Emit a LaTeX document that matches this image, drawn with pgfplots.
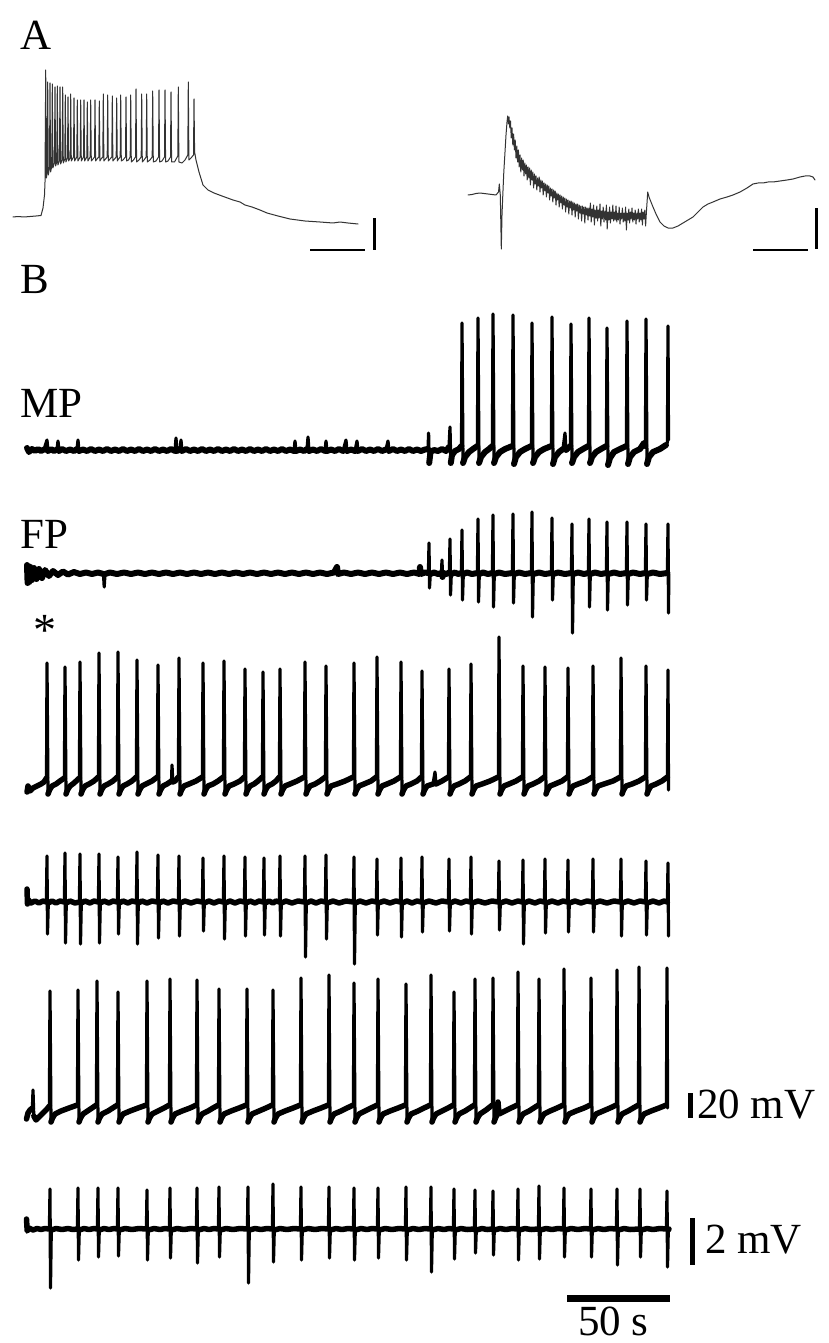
\documentclass[border=0pt]{standalone}
\usepackage{fontspec}
\setmainfont{Liberation Serif}
\usepackage{pgfplots}
\usepackage{pgfplotstable}
\pgfplotsset{compat=1.18}
% Panel B traces, pixel coordinates (x right, y down)
\pgfplotstableread[row sep=\\]{x y\\
27 448\\29 452\\32 449\\35 451\\38 449\\41 451\\44 449.5\\47 440\\48 451\\51 449\\54 451\\57 449.5\\58 441\\59 451\\
62 449\\66 451\\70 449.5\\74 451\\77 449\\78 440\\79 451\\83 449.5\\87 451\\91 449\\95 451\\99 449.5\\103 451\\107 449\\
111 451\\115 449.5\\119 451\\123 449\\127 451\\131 449.5\\135 451\\139 449\\143 451\\147 449.5\\151 451\\155 449\\159 451\\
163 449.5\\167 451\\171 449\\175 451\\176 438\\177 451\\180 449.5\\181 440\\182 451\\186 449\\190 451\\194 449.5\\198 451\\
202 449\\206 451\\210 449.5\\214 451\\218 449\\222 451\\226 449.5\\230 451\\234 449\\238 451\\242 449.5\\246 451\\250 449\\
254 451\\258 449.5\\262 451\\266 449\\270 451\\274 449.5\\278 451\\282 449\\286 451\\290 449.5\\294 451\\295 441\\296 451\\
300 449.5\\304 451\\307 449\\308 437\\309 451\\313 449.5\\317 451\\321 449\\325 451\\326 441\\327 451\\331 449.5\\335 451\\
339 449\\343 451\\346 440\\347 451\\351 449.5\\355 451\\357 441\\358 451\\362 449\\366 451\\370 449.5\\374 451\\378 449\\
382 451\\386 449.5\\388 441\\389 451\\393 449\\397 451\\401 449.5\\405 451\\409 449\\413 451\\417 449.5\\421 451\\425 449.5\\
428 449\\428.6 433\\429.2 463\\430.5 452\\434 450\\438 451\\442 449\\446 451\\449 447\\450 427\\450.8 463\\452 455\\
455 451\\459 449\\461.5 446\\
462 323\\463 463\\465 457\\469 452\\473 449\\477.4 446\\
478 318\\479 463\\481 457\\485 452\\489 449\\492.4 446\\
493 314\\494 463\\496 457\\500 452\\505 449\\512.4 446\\
513 315\\514 464\\516 457\\520 452\\525 449\\531.4 446\\
532 323\\533 463\\535 457\\539 452\\544 449\\551.4 446\\
552 317\\553 464\\555 457\\559 452\\563 449\\565 433\\566 450\\570.4 446\\
571 324\\572 463\\574 457\\578 452\\583 449\\588.4 446\\
589 318\\590 463\\592 457\\596 452\\601 449\\606.4 446\\
607 328\\608 465\\610 458\\614 452\\620 449\\626.4 446\\
627 321\\628 464\\630 457\\634 452\\640 449\\644 443\\645.4 446\\
646 319\\647 464\\649 457\\653 452\\660 449\\666 445\\667.4 442\\
668 326\\668.5 440\\}\mpone
\pgfplotstableread[row sep=\\]{x y\\
27 565\\27.6 583\\28.4 566\\29.3 582\\30.5 567\\32 580\\34 568\\36.5 579\\39 569\\42 578\\45 570\\49 576\\53 571\\
58 575\\63 571.5\\68 574.5\\74 572\\80 574\\86 572.5\\92 574\\98 572.5\\103.5 574\\104.2 587\\105 574\\110 572.5\\
117 574\\124 572.5\\131 574\\138 572.5\\145 574\\152 572.5\\159 574\\166 572.5\\173 574\\180 572.5\\187 574\\194 572.5\\
201 574\\208 572.5\\215 574\\222 572.5\\229 574\\236 572.5\\243 574\\250 572.5\\257 574\\264 572.5\\271 574\\278 572.5\\
285 574\\292 572.5\\299 574\\306 572.5\\313 574\\320 572.5\\327 574\\334 572.5\\337 567\\338 574\\344 572.5\\351 574\\
358 572.5\\365 574\\372 572.5\\379 574\\386 572.5\\393 574\\400 572.5\\407 574\\414 572.5\\419.5 574\\420 567\\
420.8 574\\425 572.5\\428.4 573\\
429 543\\429.5 588\\430.3 574\\434 572.5\\438 574\\441.4 573\\
442 560\\442.5 577\\443.3 573\\446 574\\449.4 572.5\\
450 539\\450.5 595\\451.3 574\\455 572.5\\458 574\\461.4 573\\
462 530\\462.5 600\\463.3 574\\467 572.5\\472 574\\477.4 573\\
478 519\\478.5 602\\479.3 574\\483 572.5\\488 574\\492.4 573\\
493 515\\493.5 607\\494.3 574\\499 572.5\\505 574\\512.4 573\\
513 514\\513.5 603\\514.3 574\\519 572.5\\525 574\\531.4 573\\
532 512\\532.5 617\\533.3 574\\539 572.5\\545 574\\551.4 573\\
552 518\\552.5 600\\553.3 574\\558 572.5\\565 574\\571.4 573\\
572 524\\572.5 633\\573.3 574\\578 572.5\\584 574\\588.4 573\\
589 519\\589.5 607\\590.3 574\\595 572.5\\601 574\\606.4 573\\
607 522\\607.5 610\\608.3 574\\614 572.5\\620 574\\626.4 573\\
627 522\\627.5 605\\628.3 574\\633 572.5\\640 574\\645.4 573\\
646 524\\646.5 600\\647.3 574\\653 572.5\\660 574\\667.4 573\\
668 524\\668.5 613\\668.8 574\\}\fptwo
\pgfplotstableread[row sep=\\]{x y\\
27 792\\28 786\\30 791\\33 788\\37 786\\41 784\\44 782\\46.5 778\\
47 663\\48 794\\49.5 790\\52 786\\56 784\\60 781\\64.4 778\\
65 667\\66 794\\67.5 790\\70 786\\74 783\\79.4 778\\
80 662\\81 794\\82.5 790\\85 786\\89 784\\94 781\\98.4 777\\
99 653\\100 794\\101.5 790\\104 786\\108 784\\113 781\\117.4 777\\
118 652\\119 794\\120.5 790\\123 786\\127 784\\132 781\\136.4 777\\
137 660\\138 794\\139.5 790\\142 786\\146 784\\152 781\\157.4 777\\
158 665\\159 794\\160.5 790\\163 786\\167 784\\171.5 781\\172 765\\172.8 782\\175 781\\178.4 777\\
179 658\\180 794\\181.5 790\\184 786\\189 784\\196 781\\202.4 777\\
203 663\\204 794\\205.5 790\\208 786\\213 784\\218 781\\223.4 777\\
224 661\\225 794\\226.5 790\\229 786\\234 784\\240 781\\244.4 777\\
245 669\\246 794\\247.5 790\\250 786\\254 784\\258 781\\262.4 777\\
263 672\\264 794\\265.5 790\\268 786\\272 784\\276 781\\279.4 777\\
280 669\\281 794\\282.5 790\\285 786\\290 784\\297 781\\304.4 777\\
305 662\\306 794\\307.5 790\\310 786\\315 784\\320 781\\325.4 777\\
326 666\\327 794\\328.5 790\\331 786\\337 784\\345 781\\353.4 777\\
354 663\\355 794\\356.5 790\\359 786\\364 784\\371 781\\376.4 777\\
377 657\\378 794\\379.5 790\\382 786\\387 784\\394 781\\400.4 777\\
401 662\\402 794\\403.5 790\\406 786\\411 784\\417 781\\421.4 777\\
422 671\\423 794\\424.5 790\\427 786\\433 784\\435 772\\436 784\\442 781\\448.4 777\\
449 669\\450 794\\451.5 790\\454 786\\459 784\\465 781\\470.4 777\\
471 664\\472 794\\473.5 790\\476 786\\482 784\\490 781\\498.4 777\\
499 637\\500 794\\501.5 790\\504 786\\509 784\\516 781\\522.4 777\\
523 666\\524 794\\525.5 790\\528 786\\533 784\\539 781\\544.4 777\\
545 667\\546 794\\547.5 790\\550 786\\555 784\\562 781\\567.4 777\\
568 668\\569 794\\570.5 790\\573 786\\578 784\\586 781\\592.4 777\\
593 666\\594 794\\595.5 790\\598 786\\604 784\\613 781\\620.4 777\\
621 658\\622 794\\623.5 790\\626 786\\632 784\\639 781\\645.4 777\\
646 666\\647 794\\648.5 790\\651 786\\656 784\\662 781\\667.4 777\\
668 670\\668.5 790\\}\mpthree
\pgfplotstableread[row sep=\\]{x y\\
27 889\\27.5 904\\28.5 900\\31 903\\35 901\\39 903\\43 901\\46.4 902\\
47 856\\47.5 934\\48.3 903\\52 901\\56 903\\60 901\\64.4 902\\
65 853\\65.5 943\\66.3 903\\70 901\\75 903\\79.4 902\\
80 854\\80.5 944\\81.3 903\\85 901\\90 903\\94 901\\98.4 902\\
99 854\\99.5 943\\100.3 903\\104 901\\109 903\\113 901\\117.4 902\\
118 857\\118.5 934\\119.3 903\\123 901\\128 903\\132 901\\136.4 902\\
137 852\\137.5 944\\138.3 903\\142 901\\147 903\\152 901\\157.4 902\\
158 855\\158.5 938\\159.3 903\\163 901\\168 903\\173 901\\178.4 902\\
179 856\\179.5 936\\180.3 903\\185 901\\191 903\\197 901\\202.4 902\\
203 858\\203.5 931\\204.3 903\\209 901\\214 903\\219 901\\223.4 902\\
224 856\\224.5 939\\225.3 903\\230 901\\235 903\\240 901\\244.4 902\\
245 857\\245.5 936\\246.3 903\\250 901\\255 903\\259 901\\263.4 902\\
264 858\\264.5 935\\265.3 903\\269 901\\273 903\\276 901\\279.4 902\\
280 856\\280.5 936\\281.3 903\\286 901\\292 903\\298 901\\304.4 902\\
305 856\\305.5 957\\306.3 903\\311 901\\316 903\\321 901\\325.4 902\\
326 855\\326.5 939\\327.3 903\\333 901\\339 903\\346 901\\353.4 902\\
354 857\\354.5 964\\355.3 903\\360 901\\366 903\\372 901\\376.4 902\\
377 859\\377.5 935\\378.3 903\\384 901\\390 903\\396 901\\400.4 902\\
401 858\\401.5 937\\402.3 903\\407 901\\412 903\\417 901\\421.4 902\\
422 857\\422.5 932\\423.3 903\\429 901\\436 903\\442 901\\448.4 902\\
449 859\\449.5 931\\450.3 903\\455 901\\461 903\\466 901\\470.4 902\\
471 857\\471.5 934\\472.3 903\\478 901\\485 903\\492 901\\498.4 902\\
499 861\\499.5 930\\500.3 903\\506 901\\512 903\\518 901\\522.4 902\\
523 860\\523.5 944\\524.3 903\\529 901\\535 903\\540 901\\544.4 902\\
545 859\\545.5 933\\546.3 903\\552 901\\558 903\\563 901\\567.4 902\\
568 860\\568.5 932\\569.3 903\\575 901\\581 903\\587 901\\592.4 902\\
593 859\\593.5 932\\594.3 903\\600 901\\607 903\\614 901\\620.4 902\\
621 859\\621.5 936\\622.3 903\\628 901\\634 903\\640 901\\645.4 902\\
646 861\\646.5 935\\647.3 903\\653 901\\659 903\\664 901\\667.4 902\\
668 863\\668.5 936\\}\fpfour
\pgfplotstableread[row sep=\\]{x y\\
26.5 1119\\28 1113\\30 1110\\32.4 1108\\33 1090\\33.8 1116\\36 1120\\39 1117\\43 1113\\47 1109\\49.4 1106\\
50 991\\51 1122\\52.5 1118\\55 1114\\61 1111\\69 1108\\77.4 1105\\
78 990\\79 1122\\80.5 1118\\83 1114\\89 1110\\96.4 1105\\
97 981\\98 1122\\99.5 1118\\102 1114\\108 1111\\117.4 1105\\
118 992\\119 1122\\120.5 1118\\123 1114\\130 1111\\138 1108\\146.4 1105\\
147 981\\148 1122\\149.5 1118\\152 1114\\158 1111\\164 1108\\169.4 1105\\
170 979\\171 1122\\172.5 1118\\175 1114\\182 1111\\190 1108\\196.4 1105\\
197 980\\198 1122\\199.5 1118\\202 1114\\208 1111\\213 1108\\218.4 1105\\
219 989\\220 1122\\221.5 1118\\224 1114\\231 1111\\239 1108\\246.4 1105\\
247 989\\248 1122\\249.5 1118\\252 1114\\259 1111\\266 1108\\272.4 1105\\
273 990\\274 1122\\275.5 1118\\278 1114\\285 1111\\293 1108\\300.4 1105\\
301 978\\302 1122\\303.5 1118\\306 1114\\313 1111\\321 1108\\328.4 1105\\
329 975\\330 1122\\331.5 1118\\334 1114\\341 1111\\347 1108\\353.4 1105\\
354 983\\355 1122\\356.5 1118\\359 1114\\365 1111\\371 1108\\377.4 1105\\
378 979\\379 1122\\380.5 1118\\383 1114\\390 1111\\398 1108\\405.4 1105\\
406 984\\407 1122\\408.5 1118\\411 1114\\418 1111\\424 1108\\430.4 1105\\
431 975\\432 1122\\433.5 1118\\436 1114\\442 1111\\448 1108\\453.4 1105\\
454 992\\455 1122\\456.5 1118\\459 1114\\465 1111\\474.4 1105\\
475 979\\476 1122\\477.5 1118\\480 1114\\486 1110\\492.4 1105\\
493 978\\494 1122\\495.5 1118\\497.5 1114\\498 1102\\499 1114\\505 1111\\511 1108\\517.4 1105\\
518 972\\519 1122\\520.5 1118\\523 1114\\529 1111\\538.4 1105\\
539 979\\540 1122\\541.5 1118\\544 1114\\550 1111\\557 1108\\563.4 1105\\
564 969\\565 1122\\566.5 1118\\569 1114\\576 1111\\584 1108\\590.4 1105\\
591 978\\592 1122\\593.5 1118\\596 1114\\603 1111\\610 1108\\616.4 1105\\
617 970\\618 1122\\619.5 1118\\622 1114\\628 1111\\638.4 1105\\
639 967\\640 1122\\641.5 1118\\644 1114\\651 1111\\659 1108\\666.4 1105\\
667 968\\667.6 1108\\}\mpfive
\pgfplotstableread[row sep=\\]{x y\\
26.5 1219\\27.2 1231\\29 1228\\33 1230\\37 1228.5\\41 1229.5\\45 1228.5\\49.4 1229\\
50 1189\\50.5 1288\\51.3 1230\\56 1228.5\\62 1229.5\\68 1228.5\\73 1229.5\\77.4 1229\\
78 1188\\78.5 1260\\79.3 1230\\84 1228.5\\89 1229.5\\94 1228.5\\97.4 1229\\
98 1188\\98.5 1257\\99.3 1230\\104 1228.5\\109 1229.5\\114 1228.5\\117.4 1229\\
118 1188\\118.5 1256\\119.3 1230\\125 1228.5\\132 1229.5\\139 1228.5\\146.4 1229\\
147 1190\\147.5 1260\\148.3 1230\\154 1228.5\\160 1229.5\\165 1228.5\\169.4 1229\\
170 1188\\170.5 1258\\171.3 1230\\177 1228.5\\184 1229.5\\191 1228.5\\196.4 1229\\
197 1188\\197.5 1263\\198.3 1230\\204 1228.5\\209 1229.5\\214 1228.5\\218.4 1229\\
219 1187\\219.5 1257\\220.3 1230\\226 1228.5\\233 1229.5\\240 1228.5\\247.4 1229\\
248 1187\\248.5 1283\\249.3 1230\\255 1228.5\\261 1229.5\\267 1228.5\\272.4 1229\\
273 1184\\273.5 1262\\274.3 1230\\280 1228.5\\287 1229.5\\294 1228.5\\300.4 1229\\
301 1187\\301.5 1260\\302.3 1230\\308 1228.5\\315 1229.5\\322 1228.5\\328.4 1229\\
329 1187\\329.5 1258\\330.3 1230\\336 1228.5\\342 1229.5\\348 1228.5\\353.4 1229\\
354 1188\\354.5 1260\\355.3 1230\\361 1228.5\\367 1229.5\\372 1228.5\\377.4 1229\\
378 1188\\378.5 1258\\379.3 1230\\385 1228.5\\392 1229.5\\399 1228.5\\405.4 1229\\
406 1187\\406.5 1260\\407.3 1230\\413 1228.5\\419 1229.5\\425 1228.5\\430.4 1229\\
431 1187\\431.5 1272\\432.3 1230\\438 1228.5\\444 1229.5\\449 1228.5\\453.4 1229\\
454 1189\\454.5 1259\\455.3 1230\\461 1228.5\\467 1229.5\\474.4 1229\\
475 1190\\475.5 1253\\476.3 1230\\482 1228.5\\487 1229.5\\492.4 1229\\
493 1191\\493.5 1255\\494.3 1230\\500 1228.5\\506 1229.5\\512 1228.5\\517.4 1229\\
518 1189\\518.5 1260\\519.3 1230\\525 1228.5\\531 1229.5\\538.4 1229\\
539 1186\\539.5 1259\\540.3 1230\\546 1228.5\\552 1229.5\\558 1228.5\\563.4 1229\\
564 1188\\564.5 1257\\565.3 1230\\571 1228.5\\578 1229.5\\585 1228.5\\590.4 1229\\
591 1189\\591.5 1257\\592.3 1230\\598 1228.5\\604 1229.5\\610 1228.5\\616.4 1229\\
617 1189\\617.5 1265\\618.3 1230\\624 1228.5\\630 1229.5\\639.4 1229\\
640 1189\\640.5 1257\\641.3 1230\\647 1228.5\\653 1229.5\\660 1228.5\\666.4 1229\\
667 1191\\667.5 1267\\668.3 1230\\669 1229\\}\fpsix
\pgfplotstableread[row sep=\\]{x y\\
27 901\\27.5 904\\28.5 900\\31 903\\35 901.5\\39 902.5\\43 901.5\\46.4 902\\
48.3 902.5\\52 901.5\\56 902.5\\60 901.5\\64.4 902\\}\dummy
\begin{document}
\begin{tikzpicture}[x=1pt,y=1pt]
\fill[white] (0,0) rectangle (829,1343);
\begin{axis}[at={(0,0)},anchor=south west,scale only axis,width=829pt,height=1343pt,
  xmin=0,xmax=829,ymin=0,ymax=1343,y dir=reverse,hide axis,clip=false,
  every axis plot/.append style={mark=none,line join=round,line cap=round}]
% ---------------- Panel A left
\addplot[black!80,line width=1pt] coordinates {
(13,217)(18,216.5)(24,217)(30,216.5)(36,216)(41,215.5)(43,208)(44.5,195)(45,182)
(45.7,70)(46.4,178)(47.2,172)(47.7,82)(48.3,175)(49.5,168)(50,83)(50.6,172)(51.8,166)(52.3,84)(52.9,168)
(54.4,163)(55,87)(55.6,166)(56.8,162)(57.3,86)(57.9,165)(59.4,161)(60,87)(60.6,164)(62.1,160)(62.7,87)(63.3,163)
(64.8,159)(65.3,95)(65.9,162)(67.5,158)(68,97)(68.6,161)(70.2,158)(70.7,94)(71.3,161)(73.5,157)(74,98)(74.6,161)
(76.8,157)(77.3,100)(77.9,161)(80.2,157)(80.7,100)(81.3,161)(83.5,157)(84,100)(84.6,161)(86.8,157)(87.3,102)(87.9,161)
(90.2,157)(90.7,100)(91.3,161)(93,159)(94.5,157)(95,100)(95.6,161)(97,159)(98.8,157)(99.3,101)(99.9,161)(101,159)
(102.8,157)(103.3,94)(103.9,161)(105.5,159)(107.2,157)(107.7,95)(108.3,161)(110,159)(111.8,157)(112.3,96)(112.9,161)(114.5,159)
(116.2,157)(116.7,98)(117.3,161)(118.5,159)(120.2,157)(120.7,95)(121.3,161)(123,160)(125.5,157)(126,97)(126.6,161)(128.5,160)
(130.2,157)(130.7,95)(131.3,162)(133.5,160)(135.5,157)(136,89)(136.6,162)(139,160)(141.2,157)(141.7,94)(142.3,162)(144,160)
(146.2,157)(146.7,94)(147.3,162)(150,160)(152.2,157)(152.7,91)(153.3,162)(156,161)(158.5,157)(159,90)(159.6,162)(162,161)
(164.5,157)(165,90)(165.6,162)(168,161)(170.5,157)(171,92)(171.6,162)(174.5,162)(177.8,156)(178.3,87)(178.9,162)(182,163)(185,160)
(187.8,155)(188.3,82)(188.9,160)(191,158)(193.5,155)(194,99)(194.6,152)
(196,160)(199,172)(203,185)(208,190)(214,193)(222,196)(233,200)(240,202)(245,205)(252,207)(260,210)(267,213)
(278,216)(290,219)(305,221)(320,222)(333,223)(340,222)(348,223)(358,224)};
\addplot[black,line width=2.5pt,line cap=butt] coordinates {(310,250)(365,250)};
\addplot[black,line width=3pt,line cap=butt] coordinates {(374,218)(374,250)};
% ---------------- Panel A right
\addplot[black!80,line width=1pt] coordinates {
(468,195)(472,194.5)(476,193.5)(480,193)(484,193.5)(488,194)(492,194.5)(496,195)(498.5,192)(499.3,184)(500.3,195)
(501.3,249)(502,215)(502.8,195)(503.8,172)(505,152)(506,135)(507,122)(507.7,116)(508.4,124)(509,117)(509.8,128)
(510.5,121)(511.2,138)(512,128)(512.8,145)(513.6,134)(514.4,150)(515.2,140)(516,158)(516.8,146)(517.6,162)(518.4,150)
(519.2,167)(520,155)(520.8,172)(521.6,158)(522.4,170)(523.2,160)(524,176)(524.8,163)(525.6,174)(526.4,165)(527.2,180)
(528,167)(528.8,178)(529.6,168)(530.4,185)(531.2,170)(532,180)(532.8,172)(533.6,188)(534.4,174)(535.2,184)(536,176)
(536.8,190)(537.6,178)(538.4,186)(539.2,177)(540,192)(540.8,180)(541.6,188)(542.4,181)(543.2,195)(544,183)(544.8,191)
(545.6,184)(546.4,197)(547.2,185)(548,193)(548.8,186)(549.6,200)(550.4,188)(551.2,196)(552,189)(552.8,202)(553.6,190)
(554.4,198)(555.2,191)(556,205)(556.8,193)(557.6,200)(558.4,194)(559.2,207)(560,195)(560.8,203)(561.6,196)(562.4,209)
(563.2,197)(564,205)(564.8,198)(565.6,212)(566.4,199)(567.2,207)(568,200)(568.8,214)(569.6,201)(570.4,208)(571.2,201)
(572,215)(572.8,202)(573.6,210)(574.4,203)(575.2,217)(576,204)(576.8,211)(577.6,204)(578.4,219)(579.2,205)(580,213)
(580.8,206)(581.6,221)(582.4,206)(583.2,214)(584,207)(584.8,223)(585.6,207)(586.4,215)(587.2,208)(588,220)(588.8,208)
(589.6,216)(590.4,203)(591.2,222)(592,209)(592.8,217)(593.6,205)(594.4,225)(595.2,210)(596,218)(596.8,206)(597.6,221)
(598.4,210)(599.2,218)(600,204)(600.8,226)(601.6,211)(602.4,219)(603.2,207)(604,222)(604.8,211)(605.6,220)(606.4,205)
(607.2,229)(608,212)(608.8,220)(609.6,207)(610.4,223)(611.2,212)(612,219)(612.8,205)(613.6,221)(614.4,212)(615.2,220)
(616,206)(616.8,222)(617.6,213)(618.4,220)(619.2,207)(620,224)(620.8,213)(621.6,219)(622.4,208)(623.2,222)(624,213)
(624.8,221)(625.6,207)(626.4,230)(627.2,213)(628,220)(628.8,209)(629.6,223)(630.4,212)(631.2,219)(632,208)(632.8,222)
(633.6,213)(634.4,220)(635.2,210)(636,224)(636.8,213)(637.6,219)(638.4,209)(639.2,222)(640,213)(640.8,220)(641.6,209)
(642.4,225)(643.2,212)(644,219)(644.8,210)(645.6,226)(646.4,212)(647.2,200)(647.7,192)(649,197)(651,202)(653,207)
(656,214)(660,222)(664,226)(668,228)(673,228)(678,226)(683,223)(688,220)(693,217)(698,212)(703,207)(708,204)(713,202)
(720,199)(727,197)(733,195)(740,192)(747,188)(753,184)(758,183)(763,183)(768,182)(773,182)(780,181)(787,180)(793,179)
(800,177)(805,176)(810,176)(813,177)(815,180)};
\addplot[black,line width=2.8pt,line cap=butt] coordinates {(753,250)(808,250)};
\addplot[black,line width=3pt,line cap=butt] coordinates {(816,208)(816,249)};
% ---------------- Panel B traces: full trace + thicker noise band
\addplot[black,line width=3.2pt] table {\mpone};
\addplot[black,line width=6pt,restrict y to domain=443:466,unbounded coords=jump] table {\mpone};
\addplot[black,line width=3.2pt] table {\fptwo};
\addplot[black,line width=6pt,restrict y to domain=565:584,unbounded coords=jump] table {\fptwo};
\addplot[black,line width=3.2pt] table {\mpthree};
\addplot[black,line width=5.5pt,restrict y to domain=774:800,unbounded coords=jump] table {\mpthree};
\addplot[black,line width=3.2pt] table {\fpfour};
\addplot[black,line width=5.5pt,restrict y to domain=885:906,unbounded coords=jump] table {\fpfour};
\addplot[black,line width=3.2pt] table {\mpfive};
\addplot[black,line width=5.5pt,restrict y to domain=1100:1125,unbounded coords=jump] table {\mpfive};
\addplot[black,line width=3.2pt] table {\fpsix};
\addplot[black,line width=5.5pt,restrict y to domain=1215:1235,unbounded coords=jump] table {\fpsix};
% ---------------- Scale bars B
\addplot[black,line width=5.5pt,line cap=butt] coordinates {(690.5,1093)(690.5,1118)};
\addplot[black,line width=5pt,line cap=butt] coordinates {(692,1218)(692,1265)};
\addplot[black,line width=7pt,line cap=butt] coordinates {(567,1298)(670,1298)};
% ---------------- Text
\node[anchor=base west,inner sep=0,font=\fontsize{43}{48}\selectfont] at (20,50) {A};
\node[anchor=base west,inner sep=0,font=\fontsize{43}{48}\selectfont] at (20,293) {B};
\node[anchor=base west,inner sep=0,font=\fontsize{43}{48}\selectfont] at (20,417) {MP};
\node[anchor=base west,inner sep=0,font=\fontsize{43}{48}\selectfont] at (20,548) {FP};
\node[anchor=base,inner sep=0,font=\fontsize{46}{50}\selectfont] at (45,645) {*};
\node[anchor=base west,inner sep=0,font=\fontsize{43}{48}\selectfont] at (697,1118) {20 mV};
\node[anchor=base west,inner sep=0,font=\fontsize{43}{48}\selectfont] at (705,1253) {2 mV};
\node[anchor=base west,inner sep=0,font=\fontsize{43}{48}\selectfont] at (578,1335) {50 s};
\end{axis}
\end{tikzpicture}
\end{document}
